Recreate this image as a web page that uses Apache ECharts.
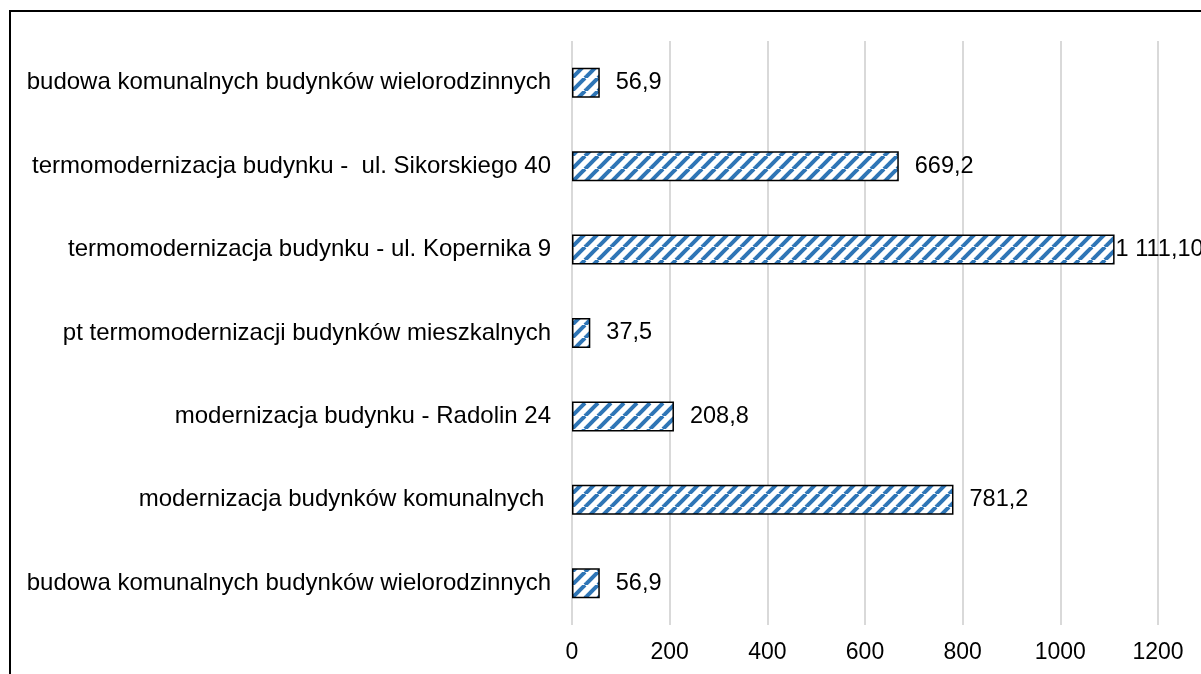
<!DOCTYPE html>
<html><head><meta charset="utf-8">
<script src="https://cdn.jsdelivr.net/npm/echarts@6/dist/echarts.min.js"></script>
<style>html,body{margin:0;padding:0;background:#fff}#c{width:1201px;height:674px}</style>
</head><body><div id="c"></div>
<script>
// categories bottom to top
const categories = [
  'budowa komunalnych budynków wielorodzinnych',
  'modernizacja budynków komunalnych ',
  'modernizacja budynku - Radolin 24',
  'pt termomodernizacji budynków mieszkalnych',
  'termomodernizacja budynku - ul. Kopernika 9',
  'termomodernizacja budynku -  ul. Sikorskiego 40',
  'budowa komunalnych budynków wielorodzinnych'
];
const values = [56.9, 781.2, 208.8, 37.5, 1111.1, 669.2, 56.9];
const valueLabels = ['56,9', '781,2', '208,8', '37,5', '1 111,10', '669,2', '56,9'];
const xTicks = [0, 200, 400, 600, 800, 1000, 1200];

function hatch() {
  const s = 13;
  const c = document.createElement('canvas');
  c.width = s; c.height = s;
  const g = c.getContext('2d');
  g.fillStyle = '#ffffff'; g.fillRect(0, 0, s, s);
  g.strokeStyle = '#2e75b6'; g.lineWidth = 4;
  for (let k = -1; k <= 1; k++) {
    g.beginPath(); g.moveTo(k * s, s); g.lineTo(k * s + s, 0); g.stroke();
  }
  return c;
}

const maxV = Math.max(...values);
const barData = values.map(v => v === maxV ? {value: v, label: {distance: 1}} : v);

const chart = echarts.init(document.getElementById('c'), null, {renderer: 'canvas'});
const font = 'Liberation Sans, Arial, sans-serif';
chart.setOption({
  animation: false,
  backgroundColor: '#fff',
  graphic: [{type: 'rect', shape: {x: 10, y: 11, width: 1400, height: 1000},
    style: {fill: 'none', stroke: '#000', lineWidth: 2}, silent: true}],
  grid: {left: 572, right: 43, top: 41, bottom: 49, containLabel: false},
  xAxis: {
    type: 'value', min: xTicks[0], max: xTicks[xTicks.length - 1], interval: 200,
    axisLine: {show: false}, axisTick: {show: false},
    splitLine: {lineStyle: {color: '#d9d9d9', width: 2}},
    axisLabel: {color: '#000', fontSize: 23, fontFamily: font, margin: 16,
      formatter: v => String(v)}
  },
  yAxis: {
    type: 'category', data: categories,
    axisLine: {show: false}, axisTick: {show: false},
    axisLabel: {color: '#000', fontSize: 24, fontFamily: font, margin: 21}
  },
  series: [{
    type: 'bar', data: barData, barWidth: 30,
    itemStyle: {color: {image: hatch(), repeat: 'repeat'}, borderColor: '#000', borderWidth: 1.5},
    label: {show: true, position: 'right', distance: 16, color: '#000', fontSize: 23.5, fontFamily: font,
      formatter: p => valueLabels[p.dataIndex]}
  }]
});
</script></body></html>
